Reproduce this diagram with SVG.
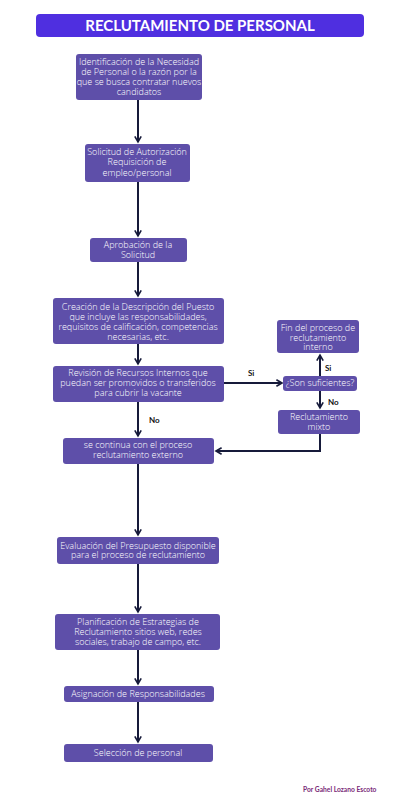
<svg xmlns="http://www.w3.org/2000/svg" width="400" height="800" viewBox="0 0 400 800">
<defs>
<marker id="ah" viewBox="0 0 10 10" refX="8" refY="5" markerWidth="4" markerHeight="4" orient="auto-start-reverse" markerUnits="strokeWidth">
<path d="M1,1 L8,5 L1,9" fill="none" stroke="#161a3a" stroke-width="2"/>
</marker>
</defs>
<style>
.n{fill:#5e4fa9;}
.t{font-family:"Open Sans",Lato,sans-serif;font-size:9px;fill:#ffffff;text-anchor:middle;font-weight:300;}
.c{fill:none;stroke:#161a3a;stroke-width:2;}
.lb{font-family:Lato,"Liberation Sans",sans-serif;font-size:8px;font-weight:bold;fill:#111111;}
</style>
<rect x="0" y="0" width="400" height="800" fill="#ffffff"/>
<g id="title">
<rect x="36" y="14" width="328" height="23" rx="4" fill="#4f2fe0"/>
<text x="200" y="31" font-family="Lato,'Liberation Sans',sans-serif" font-size="15" font-weight="bold" fill="#ffffff" text-anchor="middle">RECLUTAMIENTO DE PERSONAL</text>
</g>
<g id="connectors">
<line class="c" x1="138" y1="100" x2="138" y2="142" marker-end="url(#ah)"/>
<line class="c" x1="138" y1="182" x2="138" y2="236" marker-end="url(#ah)"/>
<line class="c" x1="138" y1="262" x2="138" y2="296" marker-end="url(#ah)"/>
<line class="c" x1="138" y1="344" x2="138" y2="364" marker-end="url(#ah)"/>
<line class="c" x1="138" y1="402" x2="138" y2="436" marker-end="url(#ah)"/>
<line class="c" x1="138" y1="464" x2="138" y2="535" marker-end="url(#ah)"/>
<line class="c" x1="138" y1="564" x2="138" y2="612" marker-end="url(#ah)"/>
<line class="c" x1="138" y1="650" x2="138" y2="684" marker-end="url(#ah)"/>
<line class="c" x1="138" y1="702" x2="138" y2="742" marker-end="url(#ah)"/>
<line class="c" x1="224" y1="383" x2="282" y2="383" marker-end="url(#ah)"/>
<line class="c" x1="320" y1="376" x2="320" y2="355" marker-end="url(#ah)"/>
<line class="c" x1="320" y1="391" x2="320" y2="408" marker-end="url(#ah)"/>
<polyline class="c" points="320,434 320,451 216,451" marker-end="url(#ah)"/>
<text class="lb" x="248" y="376">Si</text>
<text class="lb" x="325" y="371">Si</text>
<text class="lb" x="328" y="405">No</text>
<text class="lb" x="149" y="423">No</text>
</g>
<g id="n1">
<rect class="n" x="76" y="54" width="126" height="46" rx="3"/>
<text class="t" x="139" y="65">Identificación de la Necesidad</text>
<text class="t" x="139" y="75">de Personal o la razón por la</text>
<text class="t" x="139" y="85">que se busca contratar nuevos</text>
<text class="t" x="139" y="95">candidatos</text>
</g>
<g id="n2">
<rect class="n" x="85" y="144" width="105" height="38" rx="3"/>
<text class="t" x="137" y="155">Solicitud de Autorización</text>
<text class="t" x="137" y="165">Requisición de</text>
<text class="t" x="137" y="176">empleo/personal</text>
</g>
<g id="n3">
<rect class="n" x="90" y="238" width="97" height="24" rx="3"/>
<text class="t" x="138" y="248">Aprobación de la</text>
<text class="t" x="138" y="258">Solicitud</text>
</g>
<g id="n4">
<rect class="n" x="53" y="298" width="171" height="46" rx="3"/>
<text class="t" x="138" y="310">Creación de la Descripción del Puesto</text>
<text class="t" x="138" y="320">que incluye las responsabilidades,</text>
<text class="t" x="138" y="330">requisitos de calificación, competencias</text>
<text class="t" x="138" y="340">necesarias, etc.</text>
</g>
<g id="n5">
<rect class="n" x="53" y="366" width="171" height="36" rx="3"/>
<text class="t" x="138" y="376">Revisión de Recursos Internos que</text>
<text class="t" x="138" y="386">puedan ser promovidos o transferidos</text>
<text class="t" x="138" y="396">para cubrir la vacante</text>
</g>
<g id="n6">
<rect class="n" x="63" y="438" width="151" height="26" rx="3"/>
<text class="t" x="138" y="448">se continua con el proceso</text>
<text class="t" x="138" y="458">reclutamiento externo</text>
</g>
<g id="n7">
<rect class="n" x="57" y="537" width="162" height="27" rx="3"/>
<text class="t" x="138" y="549">Evaluación del Presupuesto disponible</text>
<text class="t" x="138" y="558">para el proceso de reclutamiento</text>
</g>
<g id="n8">
<rect class="n" x="55" y="614" width="165" height="36" rx="3"/>
<text class="t" x="138" y="625">Planificación de Estrategias de</text>
<text class="t" x="138" y="635">Reclutamiento sitios web, redes</text>
<text class="t" x="138" y="645">sociales, trabajo de campo, etc.</text>
</g>
<g id="n9">
<rect class="n" x="64" y="686" width="150" height="16" rx="3"/>
<text class="t" x="138" y="697">Asignación de Responsabilidades</text>
</g>
<g id="n10">
<rect class="n" x="64" y="744" width="149" height="18" rx="3"/>
<text class="t" x="138" y="756">Selección de personal</text>
</g>
<g id="fin">
<rect class="n" x="277" y="320" width="82" height="33" rx="3"/>
<text class="t" x="318" y="331">Fin del proceso de</text>
<text class="t" x="318" y="341">reclutamiento</text>
<text class="t" x="318" y="350">interno</text>
</g>
<g id="dec">
<rect class="n" x="283" y="376" width="74" height="15" rx="3"/>
<text class="t" x="320" y="386">¿Son suficientes?</text>
</g>
<g id="mixto">
<rect class="n" x="278" y="410" width="82" height="24" rx="3"/>
<text class="t" x="319" y="420">Reclutamiento</text>
<text class="t" x="319" y="430">mixto</text>
</g>
<text x="303" y="792" font-family="Lato,'Liberation Sans',sans-serif" font-size="6.7" font-weight="bold" fill="#7a2a78">Por Gahel Lozano Escoto</text>
</svg>
